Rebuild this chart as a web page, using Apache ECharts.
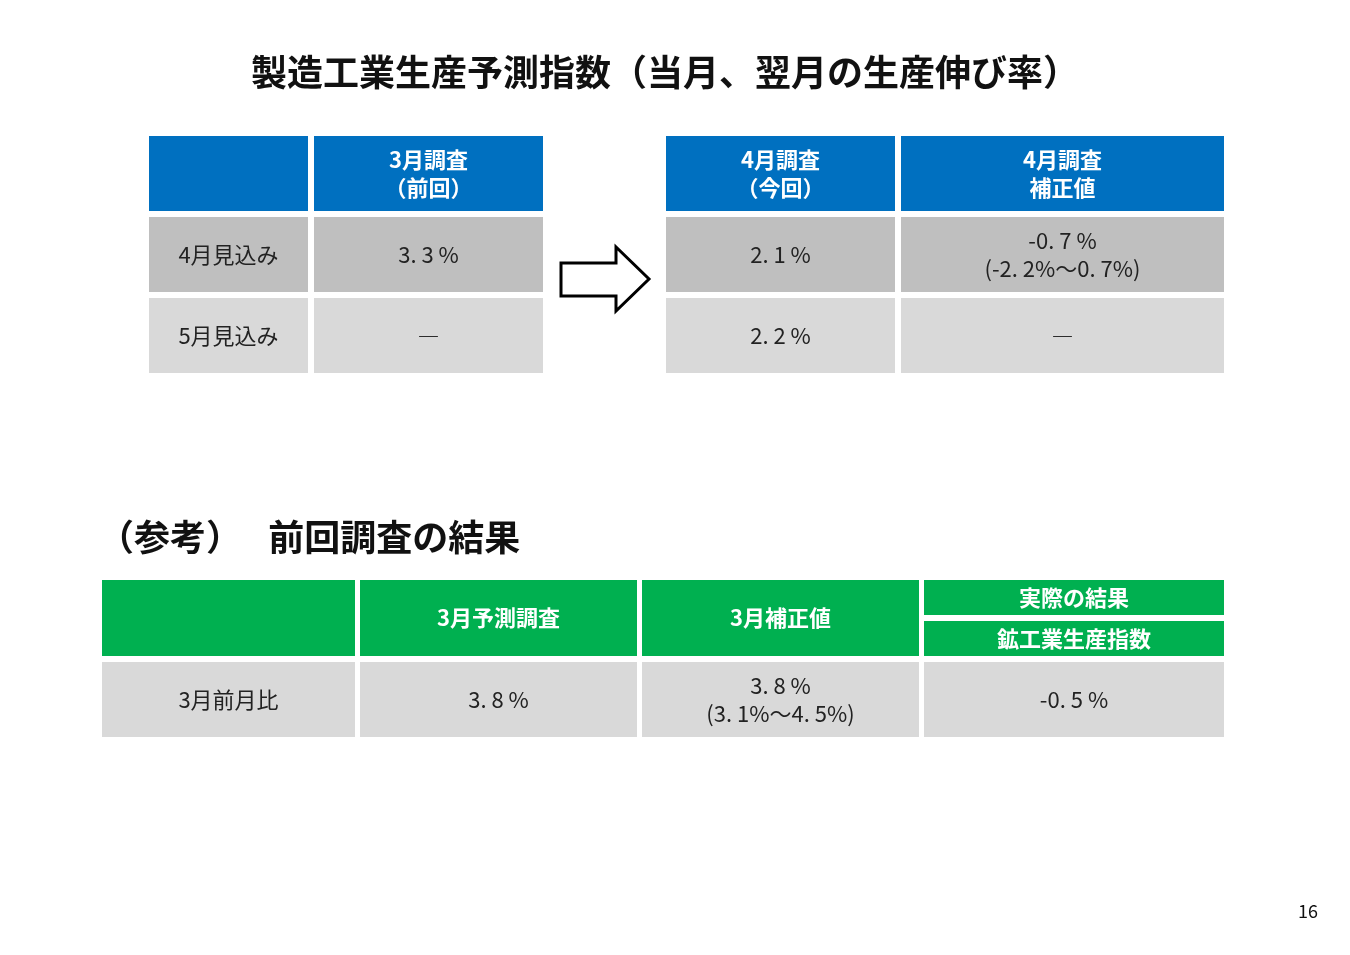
<!DOCTYPE html>
<html><head><meta charset="utf-8">
<script src="https://cdn.jsdelivr.net/npm/echarts@6/dist/echarts.min.js"></script>
<style>html,body{margin:0;padding:0;background:#fff}#c{width:1350px;height:955px}</style>
</head><body><div id="c"></div>
<script>
const title = '製造工業生産予測指数（当月、翌月の生産伸び率）';
const leftHeaders = ['', '3月調査\n（前回）'];
const rightHeaders = ['4月調査\n（今回）', '4月調査\n補正値'];
const rowLabels = ['4月見込み', '5月見込み'];
const prevValues = ['3. 3 %', '―'];
const curValues = ['2. 1 %', '2. 2 %'];
const adjValues = ['-0. 7 %\n(-2. 2%～0. 7%)', '―'];
const refTitle = '（参考）　 前回調査の結果';
const refHeaders = ['', '3月予測調査', '3月補正値'];
const refSplitHeaders = ['実際の結果', '鉱工業生産指数'];
const refRow = ['3月前月比', '3. 8 %', '3. 8 %\n(3. 1%～4. 5%)', '-0. 5 %'];
const pageNo = '16';

const F = '"Noto Sans CJK JP", sans-serif';
const BLUE = '#0070C0', GREEN = '#00B050', G1 = '#BFBFBF', G2 = '#D9D9D9';
const els = [];
function cell(x1, x2, y1, y2, fill, txt, head, size) {
  els.push({type:'rect', shape:{x:x1, y:y1, width:x2-x1, height:y2-y1}, style:{fill}});
  if (txt) els.push({type:'text', x:(x1+x2)/2, y:(y1+y2)/2, style:{text:txt, fill: head?'#fff':'#222',
    font:(head?'bold ':'')+(size||22)+'px '+F, align:'center', verticalAlign:'middle', lineHeight:28}});
}
els.push({type:'text', x:665, y:72, style:{text:title, font:'bold 36px '+F, fill:'#111', align:'center', verticalAlign:'middle'}});
const rowsY = [[136,211],[217,292],[298,373]];
const lc = [[149,308],[314,543]], rc = [[666,895],[901,1224]];
leftHeaders.forEach((h,i)=>cell(lc[i][0],lc[i][1],136,211,BLUE,h,true));
rightHeaders.forEach((h,i)=>cell(rc[i][0],rc[i][1],136,211,BLUE,h,true));
rowLabels.forEach((r,k)=>{
  const f = k===0?G1:G2, y=rowsY[k+1];
  cell(lc[0][0],lc[0][1],y[0],y[1],f,r);
  cell(lc[1][0],lc[1][1],y[0],y[1],f,prevValues[k]);
  cell(rc[0][0],rc[0][1],y[0],y[1],f,curValues[k]);
  cell(rc[1][0],rc[1][1],y[0],y[1],f,adjValues[k]);
});
els.push({type:'polygon', shape:{points:[[561,263],[616,263],[616,247],[649,279],[616,311],[616,296],[561,296]]},
  style:{fill:'#fff', stroke:'#000', lineWidth:3}});
els.push({type:'text', x:98, y:537, style:{text:refTitle, font:'bold 36px '+F, fill:'#111', verticalAlign:'middle'}});
const bc = [[102,355],[360,637],[642,919],[924,1224]];
refHeaders.forEach((h,i)=>cell(bc[i][0],bc[i][1],580,656,GREEN,h,true));
cell(bc[3][0],bc[3][1],580,615,GREEN,refSplitHeaders[0],true);
cell(bc[3][0],bc[3][1],621,656,GREEN,refSplitHeaders[1],true);
refRow.forEach((t,i)=>cell(bc[i][0],bc[i][1],662,737,G2,t));
els.push({type:'text', x:1308, y:911, style:{text:pageNo, font:'18px '+F, fill:'#111', align:'center', verticalAlign:'middle'}});
const ch = echarts.init(document.getElementById('c'));
ch.setOption({graphic:{elements:els}});
</script></body></html>
